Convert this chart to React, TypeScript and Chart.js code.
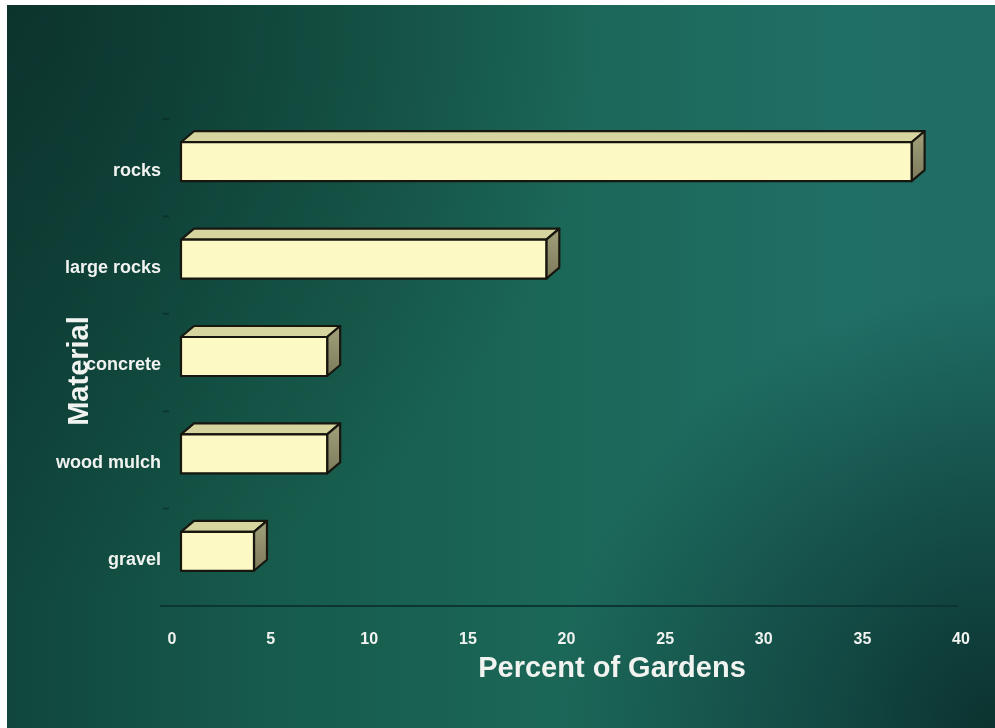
import React, { useEffect, useRef } from "react";
import { Chart, registerables } from "chart.js";

Chart.register(...registerables);

// ---- data ----
const categories = ["rocks", "large rocks", "concrete", "wood mulch", "gravel"];
const percentOfGardens = [37.04, 18.52, 7.41, 7.41, 3.7];
const xMin = 0;
const xMax = 40;
const xStep = 5;
const xAxisTitle = "Percent of Gardens";
const yAxisTitle = "Material";

const FONT = "'Liberation Sans', Arial, Helvetica, sans-serif";
const TEXT = "#f1f3f0";

const backgroundPlugin = {
  id: "tealBackground",
  beforeDraw(chart: any) {
    const { ctx, width, height } = chart;
    ctx.save();
    const lg = ctx.createLinearGradient(0, 0, width, 0);
    lg.addColorStop(0, "#10463d");
    lg.addColorStop(0.25, "#165a4b");
    lg.addColorStop(0.55, "#1b6757");
    lg.addColorStop(0.85, "#206f66");
    lg.addColorStop(1, "#1f6d65");
    ctx.fillStyle = lg;
    ctx.fillRect(0, 0, width, height);

    const tl = ctx.createRadialGradient(0, 0, 0, 0, 0, 600);
    tl.addColorStop(0, "rgba(10,46,40,0.75)");
    tl.addColorStop(1, "rgba(10,46,40,0)");
    ctx.fillStyle = tl;
    ctx.fillRect(0, 0, width, height);

    const br = ctx.createRadialGradient(width, height, 0, width, height, 440);
    br.addColorStop(0, "rgba(8,40,38,0.85)");
    br.addColorStop(0.5, "rgba(8,40,38,0.45)");
    br.addColorStop(1, "rgba(8,40,38,0)");
    ctx.fillStyle = br;
    ctx.fillRect(0, 0, width, height);
    ctx.restore();
  },
};

const bar3dPlugin = {
  id: "bar3d",
  afterDatasetsDraw(chart: any) {
    const { ctx, chartArea } = chart;
    const meta = chart.getDatasetMeta(0);
    const dx = 13;
    const dy = 11;
    const lift = 6;
    ctx.save();
    ctx.lineJoin = "round";

    // faint category tick marks at the left
    const n = categories.length;
    const band = (chartArea.bottom - chartArea.top) / n;
    ctx.lineWidth = 2;
    ctx.strokeStyle = "rgba(8,38,34,0.55)";
    for (let i = 0; i <= n; i++) {
      const yy = chartArea.top + i * band;
      ctx.beginPath();
      ctx.moveTo(chartArea.left - 18, yy);
      ctx.lineTo(chartArea.left - 12, yy);
      ctx.stroke();
    }
    // floor front edge (value axis line)
    ctx.strokeStyle = "#0c3631";
    ctx.beginPath();
    ctx.moveTo(chartArea.left - 21, chartArea.bottom);
    ctx.lineTo(chartArea.right - 12, chartArea.bottom);
    ctx.stroke();

    ctx.lineWidth = 2.2;
    ctx.strokeStyle = "#17170f";
    meta.data.forEach((el: any) => {
      const p = el.getProps(["x", "y", "base", "height"], true);
      const l = Math.min(p.base, p.x);
      const r = Math.max(p.base, p.x);
      const t = p.y - p.height / 2 - lift;
      const b = p.y + p.height / 2 - lift;

      // top face
      ctx.beginPath();
      ctx.moveTo(l, t);
      ctx.lineTo(l + dx, t - dy);
      ctx.lineTo(r + dx, t - dy);
      ctx.lineTo(r, t);
      ctx.closePath();
      ctx.fillStyle = "#d6d5a0";
      ctx.fill();
      ctx.stroke();

      // side face
      const sg = ctx.createLinearGradient(r, t - dy, r, b);
      sg.addColorStop(0, "#a3a07a");
      sg.addColorStop(1, "#7c7a5c");
      ctx.beginPath();
      ctx.moveTo(r, t);
      ctx.lineTo(r + dx, t - dy);
      ctx.lineTo(r + dx, b - dy);
      ctx.lineTo(r, b);
      ctx.closePath();
      ctx.fillStyle = sg;
      ctx.fill();
      ctx.stroke();

      // front face
      ctx.beginPath();
      ctx.rect(l, t, r - l, b - t);
      ctx.fillStyle = "#fdf9c4";
      ctx.fill();
      ctx.stroke();
    });
    ctx.restore();
  },
};

const titlesPlugin = {
  id: "axisTitles",
  afterDraw(chart: any) {
    const { ctx } = chart;
    ctx.save();
    ctx.fillStyle = TEXT;
    ctx.font = `bold 29px ${FONT}`;
    ctx.textAlign = "center";
    ctx.textBaseline = "middle";
    ctx.fillText(xAxisTitle, 605, 664);
    ctx.translate(72.5, 366);
    ctx.rotate(-Math.PI / 2);
    ctx.fillText(yAxisTitle, 0, 0);
    ctx.restore();
  },
};

export default function App() {
  const ref = useRef<HTMLCanvasElement | null>(null);

  useEffect(() => {
    if (!ref.current) return;
    const chart = new Chart(ref.current, {
      type: "bar",
      data: {
        labels: categories,
        datasets: [
          {
            label: xAxisTitle,
            data: percentOfGardens,
            backgroundColor: "rgba(0,0,0,0)",
            borderWidth: 0,
            barPercentage: 0.4,
            categoryPercentage: 1,
          },
        ],
      },
      options: {
        indexAxis: "y",
        responsive: false,
        animation: false,
        layout: { padding: { top: 114, right: 25, bottom: 0, left: 0 } },
        plugins: {
          legend: { display: false },
          tooltip: { enabled: false },
          title: { display: false },
        },
        scales: {
          x: {
            type: "linear",
            min: xMin,
            max: xMax,
            grid: { display: false },
            border: { display: false },
            ticks: {
              stepSize: xStep,
              color: TEXT,
              font: { family: FONT, size: 16, weight: "bold" },
              padding: 16,
              labelOffset: -9,
              maxRotation: 0,
            },
            afterFit: (s: any) => {
              s.height = 122;
            },
          },
          y: {
            type: "category",
            offset: true,
            grid: { display: false },
            border: { display: false },
            ticks: {
              color: TEXT,
              font: { family: FONT, size: 18, weight: "bold" },
              padding: 12,
              labelOffset: 3,
            },
            afterFit: (s: any) => {
              s.width = 174;
            },
          },
        },
      },
      plugins: [backgroundPlugin, bar3dPlugin, titlesPlugin],
    } as any);
    return () => chart.destroy();
  }, []);

  return (
    <div style={{ position: "fixed", left: 7, top: 5, width: 988, height: 723 }}>
      <canvas ref={ref} width={988} height={723} style={{ width: 988, height: 723, display: "block" }} />
    </div>
  );
}
